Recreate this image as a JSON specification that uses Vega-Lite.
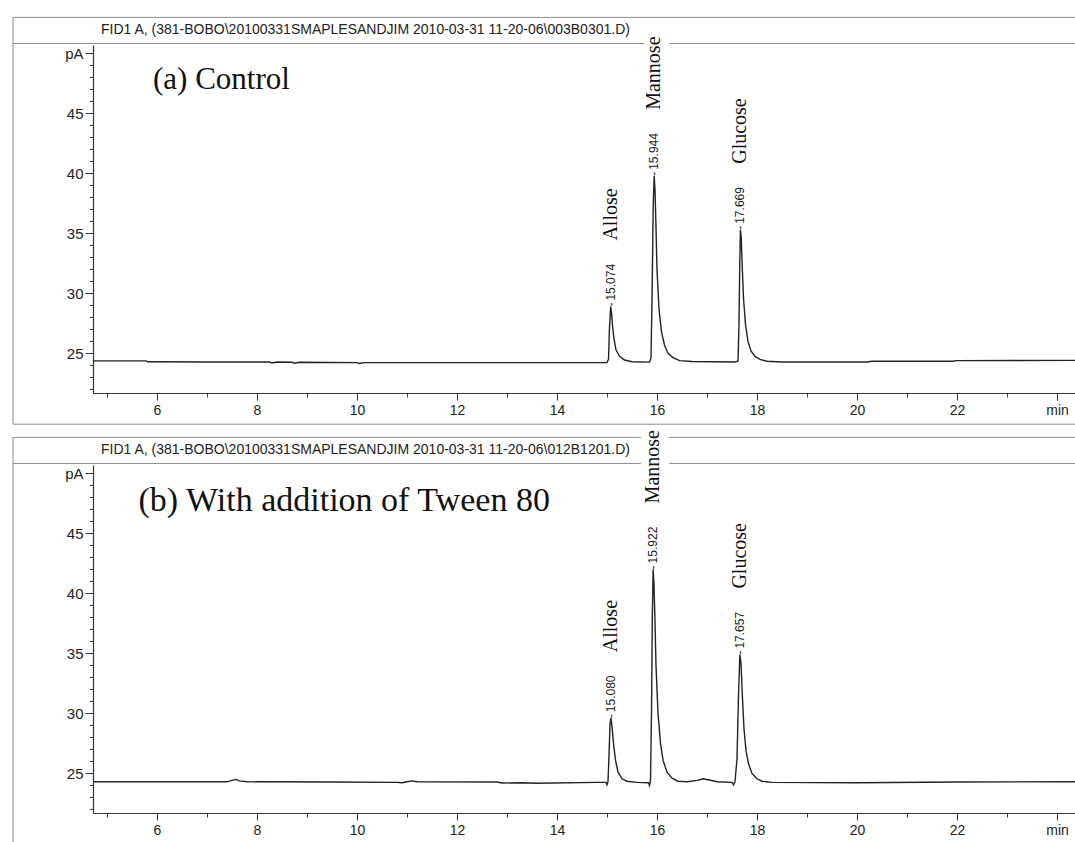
{
  "$schema": "https://vega.github.io/schema/vega-lite/v6.json",
  "padding": {"left": 12, "top": 16, "right": 0, "bottom": 0},
  "background": "white",
  "bounds": "flush",
  "spacing": 72,
  "config": {
    "view": {"stroke": null},
    "axis": {"grid": false, "domainColor": "#333", "tickColor": "#333", "labelColor": "#222", "labelFont": "Liberation Sans", "labelFontSize": 14, "domainWidth": 1.2, "tickWidth": 1, "labelOverlap": false, "labelFlush": false, "labelBound": false}
  },
  "datasets": {
    "trace": [
      {"panel": "a", "t": 4.72, "pA": 24.38}, {"panel": "a", "t": 5.5, "pA": 24.38}, {"panel": "a", "t": 5.78, "pA": 24.38}, {"panel": "a", "t": 5.82, "pA": 24.3},
      {"panel": "a", "t": 7.0, "pA": 24.28}, {"panel": "a", "t": 8.25, "pA": 24.28}, {"panel": "a", "t": 8.3, "pA": 24.2}, {"panel": "a", "t": 8.4, "pA": 24.28},
      {"panel": "a", "t": 8.7, "pA": 24.26}, {"panel": "a", "t": 8.75, "pA": 24.18}, {"panel": "a", "t": 8.85, "pA": 24.26}, {"panel": "a", "t": 10.0, "pA": 24.23},
      {"panel": "a", "t": 10.05, "pA": 24.16}, {"panel": "a", "t": 10.15, "pA": 24.23}, {"panel": "a", "t": 12.0, "pA": 24.23}, {"panel": "a", "t": 13.5, "pA": 24.23},
      {"panel": "a", "t": 15.0, "pA": 24.23}, {"panel": "a", "t": 15.03, "pA": 24.5}, {"panel": "a", "t": 15.05, "pA": 27.2}, {"panel": "a", "t": 15.074, "pA": 28.9},
      {"panel": "a", "t": 15.09, "pA": 28.4}, {"panel": "a", "t": 15.11, "pA": 27.3}, {"panel": "a", "t": 15.14, "pA": 26.2}, {"panel": "a", "t": 15.18, "pA": 25.3},
      {"panel": "a", "t": 15.25, "pA": 24.75}, {"panel": "a", "t": 15.35, "pA": 24.45}, {"panel": "a", "t": 15.5, "pA": 24.3}, {"panel": "a", "t": 15.85, "pA": 24.27},
      {"panel": "a", "t": 15.88, "pA": 24.6}, {"panel": "a", "t": 15.9, "pA": 29.5}, {"panel": "a", "t": 15.925, "pA": 37.5}, {"panel": "a", "t": 15.944, "pA": 39.8},
      {"panel": "a", "t": 15.96, "pA": 38.6}, {"panel": "a", "t": 15.98, "pA": 35.5}, {"panel": "a", "t": 16.0, "pA": 32.0}, {"panel": "a", "t": 16.04, "pA": 28.7},
      {"panel": "a", "t": 16.09, "pA": 26.8}, {"panel": "a", "t": 16.15, "pA": 25.7}, {"panel": "a", "t": 16.22, "pA": 25.0}, {"panel": "a", "t": 16.32, "pA": 24.65},
      {"panel": "a", "t": 16.45, "pA": 24.4}, {"panel": "a", "t": 16.7, "pA": 24.32}, {"panel": "a", "t": 17.55, "pA": 24.28}, {"panel": "a", "t": 17.62, "pA": 24.35},
      {"panel": "a", "t": 17.64, "pA": 27.5}, {"panel": "a", "t": 17.655, "pA": 32.5}, {"panel": "a", "t": 17.669, "pA": 35.3}, {"panel": "a", "t": 17.685, "pA": 34.6},
      {"panel": "a", "t": 17.705, "pA": 32.2}, {"panel": "a", "t": 17.73, "pA": 29.6}, {"panel": "a", "t": 17.77, "pA": 27.4}, {"panel": "a", "t": 17.82, "pA": 26.0},
      {"panel": "a", "t": 17.88, "pA": 25.2}, {"panel": "a", "t": 17.96, "pA": 24.75}, {"panel": "a", "t": 18.06, "pA": 24.5}, {"panel": "a", "t": 18.2, "pA": 24.35},
      {"panel": "a", "t": 18.5, "pA": 24.28}, {"panel": "a", "t": 20.2, "pA": 24.28}, {"panel": "a", "t": 20.3, "pA": 24.35}, {"panel": "a", "t": 21.9, "pA": 24.35},
      {"panel": "a", "t": 22.0, "pA": 24.4}, {"panel": "a", "t": 24.4, "pA": 24.42},

      {"panel": "b", "t": 4.72, "pA": 24.3}, {"panel": "b", "t": 7.4, "pA": 24.3}, {"panel": "b", "t": 7.5, "pA": 24.42}, {"panel": "b", "t": 7.58, "pA": 24.5},
      {"panel": "b", "t": 7.65, "pA": 24.38}, {"panel": "b", "t": 7.8, "pA": 24.3}, {"panel": "b", "t": 9.5, "pA": 24.28}, {"panel": "b", "t": 10.8, "pA": 24.25},
      {"panel": "b", "t": 10.9, "pA": 24.22}, {"panel": "b", "t": 11.0, "pA": 24.3}, {"panel": "b", "t": 11.1, "pA": 24.38}, {"panel": "b", "t": 11.2, "pA": 24.3},
      {"panel": "b", "t": 12.8, "pA": 24.28}, {"panel": "b", "t": 12.9, "pA": 24.2}, {"panel": "b", "t": 13.3, "pA": 24.22}, {"panel": "b", "t": 13.6, "pA": 24.18},
      {"panel": "b", "t": 14.8, "pA": 24.25}, {"panel": "b", "t": 14.98, "pA": 24.25}, {"panel": "b", "t": 15.0, "pA": 24.05}, {"panel": "b", "t": 15.02, "pA": 24.3},
      {"panel": "b", "t": 15.04, "pA": 26.5}, {"panel": "b", "t": 15.06, "pA": 29.1}, {"panel": "b", "t": 15.08, "pA": 29.6}, {"panel": "b", "t": 15.1, "pA": 28.9},
      {"panel": "b", "t": 15.13, "pA": 27.5}, {"panel": "b", "t": 15.17, "pA": 26.1}, {"panel": "b", "t": 15.22, "pA": 25.1}, {"panel": "b", "t": 15.3, "pA": 24.55},
      {"panel": "b", "t": 15.4, "pA": 24.35}, {"panel": "b", "t": 15.6, "pA": 24.25}, {"panel": "b", "t": 15.83, "pA": 24.22}, {"panel": "b", "t": 15.85, "pA": 24.0},
      {"panel": "b", "t": 15.87, "pA": 24.4}, {"panel": "b", "t": 15.89, "pA": 30.0}, {"panel": "b", "t": 15.905, "pA": 37.5}, {"panel": "b", "t": 15.922, "pA": 42.0},
      {"panel": "b", "t": 15.94, "pA": 40.7}, {"panel": "b", "t": 15.96, "pA": 37.6}, {"panel": "b", "t": 15.98, "pA": 34.0}, {"panel": "b", "t": 16.02, "pA": 30.0},
      {"panel": "b", "t": 16.07, "pA": 27.5}, {"panel": "b", "t": 16.12, "pA": 26.1}, {"panel": "b", "t": 16.2, "pA": 25.1}, {"panel": "b", "t": 16.3, "pA": 24.6},
      {"panel": "b", "t": 16.42, "pA": 24.35}, {"panel": "b", "t": 16.6, "pA": 24.3}, {"panel": "b", "t": 16.8, "pA": 24.42}, {"panel": "b", "t": 16.92, "pA": 24.55},
      {"panel": "b", "t": 17.05, "pA": 24.45}, {"panel": "b", "t": 17.2, "pA": 24.3}, {"panel": "b", "t": 17.5, "pA": 24.25}, {"panel": "b", "t": 17.53, "pA": 24.05},
      {"panel": "b", "t": 17.56, "pA": 24.3}, {"panel": "b", "t": 17.6, "pA": 26.2}, {"panel": "b", "t": 17.63, "pA": 31.5}, {"panel": "b", "t": 17.657, "pA": 34.9},
      {"panel": "b", "t": 17.68, "pA": 34.2}, {"panel": "b", "t": 17.71, "pA": 31.2}, {"panel": "b", "t": 17.74, "pA": 28.7}, {"panel": "b", "t": 17.78, "pA": 26.9},
      {"panel": "b", "t": 17.83, "pA": 25.8}, {"panel": "b", "t": 17.9, "pA": 25.0}, {"panel": "b", "t": 18.0, "pA": 24.55}, {"panel": "b", "t": 18.1, "pA": 24.35},
      {"panel": "b", "t": 18.3, "pA": 24.25}, {"panel": "b", "t": 20.0, "pA": 24.22}, {"panel": "b", "t": 22.0, "pA": 24.28}, {"panel": "b", "t": 24.4, "pA": 24.3}
    ],
    "peaks": [
      {"panel": "a", "peak": "Allose", "rt": 15.074, "apex": 28.9},
      {"panel": "a", "peak": "Mannose", "rt": 15.944, "apex": 39.8},
      {"panel": "a", "peak": "Glucose", "rt": 17.669, "apex": 35.3},
      {"panel": "b", "peak": "Allose", "rt": 15.080, "apex": 29.6},
      {"panel": "b", "peak": "Mannose", "rt": 15.922, "apex": 42.0},
      {"panel": "b", "peak": "Glucose", "rt": 17.657, "apex": 34.9}
    ],
    "panels": [
      {"panel": "a", "caption": "(a) Control", "header": "FID1 A,  (381-BOBO\\20100331SMAPLESANDJIM 2010-03-31 11-20-06\\003B0301.D)"},
      {"panel": "b", "caption": "(b) With addition of Tween 80", "header": "FID1 A,  (381-BOBO\\20100331SMAPLESANDJIM 2010-03-31 11-20-06\\012B1201.D)"}
    ],
    "yminor": [
      {"v": 22}, {"v": 23}, {"v": 24}, {"v": 26}, {"v": 27}, {"v": 28}, {"v": 29}, {"v": 31}, {"v": 32}, {"v": 33}, {"v": 34},
      {"v": 36}, {"v": 37}, {"v": 38}, {"v": 39}, {"v": 41}, {"v": 42}, {"v": 43}, {"v": 44}, {"v": 46}, {"v": 47}, {"v": 48}, {"v": 49}
    ]
  },
  "vconcat": [
    {
      "width": 983,
      "height": 348,
      "layer": [
        {"data": {"values": [{}]}, "mark": {"type": "rule", "clip": false, "color": "#8c8c8c", "strokeWidth": 1},
          "encoding": {"x": {"datum": 3.12, "type": "quantitative"}, "y": {"datum": 53.0, "type": "quantitative"}, "y2": {"datum": 19.1}}},
        {"data": {"values": [{}]}, "mark": {"type": "rule", "clip": false, "color": "#8c8c8c", "strokeWidth": 1},
          "encoding": {"x": {"datum": 3.12, "type": "quantitative"}, "x2": {"datum": 24.6}, "y": {"datum": 53.0, "type": "quantitative"}}},
        {"data": {"values": [{}]}, "mark": {"type": "rule", "clip": false, "color": "#8c8c8c", "strokeWidth": 1},
          "encoding": {"x": {"datum": 3.12, "type": "quantitative"}, "x2": {"datum": 15.75}, "y": {"datum": 50.83, "type": "quantitative"}}},
        {"data": {"values": [{}]}, "mark": {"type": "rule", "clip": false, "color": "#8c8c8c", "strokeWidth": 1},
          "encoding": {"x": {"datum": 16.25, "type": "quantitative"}, "x2": {"datum": 24.6}, "y": {"datum": 50.83, "type": "quantitative"}}},
        {"data": {"values": [{}]}, "mark": {"type": "rule", "clip": false, "color": "#8c8c8c", "strokeWidth": 1},
          "encoding": {"x": {"datum": 3.12, "type": "quantitative"}, "x2": {"datum": 24.6}, "y": {"datum": 19.1, "type": "quantitative"}}},
        {
          "data": {"name": "trace"},
          "transform": [{"filter": "datum.panel === 'a'"}],
          "mark": {"type": "line", "color": "#222", "strokeWidth": 1.4},
          "encoding": {
            "x": {"field": "t", "type": "quantitative", "scale": {"domain": [4.72, 24.38], "nice": false, "zero": false},
              "axis": {"title": null, "values": [5, 5.5, 6, 6.5, 7, 7.5, 8, 8.5, 9, 9.5, 10, 10.5, 11, 11.5, 12, 12.5, 13, 13.5, 14, 14.5, 15, 15.5, 16, 16.5, 17, 17.5, 18, 18.5, 19, 19.5, 20, 20.5, 21, 21.5, 22, 22.5, 23, 23.5, 24],
                "labelExpr": "datum.value == 24 ? 'min' : (datum.value % 2 == 0 ? datum.label : '')",
                "tickSize": {"condition": {"test": "datum.value % 2 == 0", "value": 7}, "value": 4},
                "labelPadding": 3}},
            "y": {"field": "pA", "type": "quantitative", "scale": {"domain": [21.7, 50.7], "nice": false, "zero": false},
              "axis": {"title": null, "values": [25, 30, 35, 40, 45, 50],
                "labelExpr": "datum.value == 50 ? 'pA' : datum.label",
                "tickSize": 8, "labelPadding": 2, "labelFontSize": 15}}
          }
        },
        {"data": {"name": "yminor"}, "mark": {"type": "rule", "clip": false, "color": "#333", "strokeWidth": 1, "x2Offset": -3},
          "encoding": {"x": {"datum": 4.72, "type": "quantitative"}, "x2": {"datum": 4.72}, "y": {"field": "v", "type": "quantitative"}}},
        {
          "data": {"name": "peaks"},
          "transform": [{"filter": "datum.panel === 'a'"}],
          "mark": {"type": "text", "text": "-", "angle": 270, "align": "left", "baseline": "middle", "font": "Liberation Sans", "fontSize": 12, "color": "#222"},
          "encoding": {"x": {"field": "rt", "type": "quantitative"}, "y": {"field": "apex", "type": "quantitative"}}
        },
        {
          "data": {"name": "peaks"},
          "transform": [{"filter": "datum.panel === 'a'"}],
          "mark": {"type": "text", "angle": 270, "align": "left", "baseline": "middle", "font": "Liberation Sans", "fontSize": 12, "dx": 6, "color": "#222"},
          "encoding": {"x": {"field": "rt", "type": "quantitative"}, "y": {"field": "apex", "type": "quantitative"}, "text": {"field": "rt", "type": "quantitative", "format": ".3f"}}
        },
        {
          "data": {"name": "peaks"},
          "transform": [{"filter": "datum.panel === 'a'"}],
          "mark": {"type": "text", "angle": 270, "align": "left", "baseline": "middle", "font": "Liberation Serif", "fontSize": 20, "dx": 66, "color": "#111"},
          "encoding": {"x": {"field": "rt", "type": "quantitative"}, "y": {"field": "apex", "type": "quantitative"}, "text": {"field": "peak"}}
        },
        {
          "data": {"name": "panels"},
          "transform": [{"filter": "datum.panel === 'a'"}],
          "mark": {"type": "text", "align": "left", "baseline": "middle", "font": "Liberation Serif", "fontSize": 31, "color": "#111"},
          "encoding": {"x": {"datum": 5.92}, "y": {"datum": 47.75}, "text": {"field": "caption"}}
        },
        {
          "data": {"name": "panels"},
          "transform": [{"filter": "datum.panel === 'a'"}],
          "mark": {"type": "text", "align": "left", "baseline": "middle", "font": "Liberation Sans", "fontSize": 14, "color": "#222", "clip": false},
          "encoding": {"x": {"datum": 4.88}, "y": {"datum": 51.92}, "text": {"field": "header"}}
        }
      ]
    },
    {
      "width": 983,
      "height": 348,
      "layer": [
        {"data": {"values": [{}]}, "mark": {"type": "rule", "clip": false, "color": "#8c8c8c", "strokeWidth": 1},
          "encoding": {"x": {"datum": 3.12, "type": "quantitative"}, "y": {"datum": 53.0, "type": "quantitative"}, "y2": {"datum": 19.2}}},
        {"data": {"values": [{}]}, "mark": {"type": "rule", "clip": false, "color": "#8c8c8c", "strokeWidth": 1},
          "encoding": {"x": {"datum": 3.12, "type": "quantitative"}, "x2": {"datum": 15.68}, "y": {"datum": 53.0, "type": "quantitative"}}},
        {"data": {"values": [{}]}, "mark": {"type": "rule", "clip": false, "color": "#8c8c8c", "strokeWidth": 1},
          "encoding": {"x": {"datum": 16.24, "type": "quantitative"}, "x2": {"datum": 24.6}, "y": {"datum": 53.0, "type": "quantitative"}}},
        {"data": {"values": [{}]}, "mark": {"type": "rule", "clip": false, "color": "#8c8c8c", "strokeWidth": 1},
          "encoding": {"x": {"datum": 3.12, "type": "quantitative"}, "x2": {"datum": 15.68}, "y": {"datum": 50.83, "type": "quantitative"}}},
        {"data": {"values": [{}]}, "mark": {"type": "rule", "clip": false, "color": "#8c8c8c", "strokeWidth": 1},
          "encoding": {"x": {"datum": 16.24, "type": "quantitative"}, "x2": {"datum": 24.6}, "y": {"datum": 50.83, "type": "quantitative"}}},
        {
          "data": {"name": "trace"},
          "transform": [{"filter": "datum.panel === 'b'"}],
          "mark": {"type": "line", "color": "#222", "strokeWidth": 1.4},
          "encoding": {
            "x": {"field": "t", "type": "quantitative", "scale": {"domain": [4.72, 24.38], "nice": false, "zero": false},
              "axis": {"title": null, "values": [5, 5.5, 6, 6.5, 7, 7.5, 8, 8.5, 9, 9.5, 10, 10.5, 11, 11.5, 12, 12.5, 13, 13.5, 14, 14.5, 15, 15.5, 16, 16.5, 17, 17.5, 18, 18.5, 19, 19.5, 20, 20.5, 21, 21.5, 22, 22.5, 23, 23.5, 24],
                "labelExpr": "datum.value == 24 ? 'min' : (datum.value % 2 == 0 ? datum.label : '')",
                "tickSize": {"condition": {"test": "datum.value % 2 == 0", "value": 7}, "value": 4},
                "labelPadding": 3}},
            "y": {"field": "pA", "type": "quantitative", "scale": {"domain": [21.7, 50.7], "nice": false, "zero": false},
              "axis": {"title": null, "values": [25, 30, 35, 40, 45, 50],
                "labelExpr": "datum.value == 50 ? 'pA' : datum.label",
                "tickSize": 8, "labelPadding": 2, "labelFontSize": 15}}
          }
        },
        {"data": {"name": "yminor"}, "mark": {"type": "rule", "clip": false, "color": "#333", "strokeWidth": 1, "x2Offset": -3},
          "encoding": {"x": {"datum": 4.72, "type": "quantitative"}, "x2": {"datum": 4.72}, "y": {"field": "v", "type": "quantitative"}}},
        {
          "data": {"name": "peaks"},
          "transform": [{"filter": "datum.panel === 'b'"}],
          "mark": {"type": "text", "text": "-", "angle": 270, "align": "left", "baseline": "middle", "font": "Liberation Sans", "fontSize": 12, "color": "#222"},
          "encoding": {"x": {"field": "rt", "type": "quantitative"}, "y": {"field": "apex", "type": "quantitative"}}
        },
        {
          "data": {"name": "peaks"},
          "transform": [{"filter": "datum.panel === 'b'"}],
          "mark": {"type": "text", "angle": 270, "align": "left", "baseline": "middle", "font": "Liberation Sans", "fontSize": 12, "dx": 6, "color": "#222"},
          "encoding": {"x": {"field": "rt", "type": "quantitative"}, "y": {"field": "apex", "type": "quantitative"}, "text": {"field": "rt", "type": "quantitative", "format": ".3f"}}
        },
        {
          "data": {"name": "peaks"},
          "transform": [{"filter": "datum.panel === 'b'"}],
          "mark": {"type": "text", "angle": 270, "align": "left", "baseline": "middle", "font": "Liberation Serif", "fontSize": 20, "dx": 66, "color": "#111"},
          "encoding": {"x": {"field": "rt", "type": "quantitative"}, "y": {"field": "apex", "type": "quantitative"}, "text": {"field": "peak"}}
        },
        {
          "data": {"name": "panels"},
          "transform": [{"filter": "datum.panel === 'b'"}],
          "mark": {"type": "text", "align": "left", "baseline": "middle", "font": "Liberation Serif", "fontSize": 34, "color": "#111"},
          "encoding": {"x": {"datum": 5.63}, "y": {"datum": 47.7}, "text": {"field": "caption"}}
        },
        {
          "data": {"name": "panels"},
          "transform": [{"filter": "datum.panel === 'b'"}],
          "mark": {"type": "text", "align": "left", "baseline": "middle", "font": "Liberation Sans", "fontSize": 14, "color": "#222", "clip": false},
          "encoding": {"x": {"datum": 4.88}, "y": {"datum": 51.92}, "text": {"field": "header"}}
        }
      ]
    }
  ]
}
